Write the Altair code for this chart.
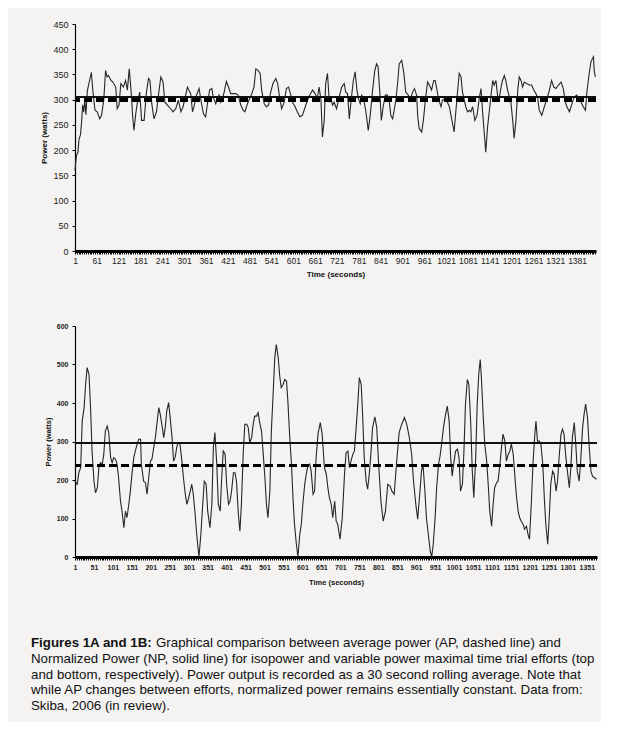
import altair as alt
import pandas as pd

# ---------------- data ----------------
top_t = [1,5,9,12,16,19,22,25,28,31,35,41,46,50,56,62,69,74,80,85,89,93,99,105,113,117,122,127,134,140,145,150,155,159,163,168,172,179,184,191,197,203,207,212,218,225,232,237,243,248,255,264,270,278,285,292,298,303,310,314,319,324,328,335,342,348,354,360,365,371,377,381,388,392,397,402,406,411,417,423,429,435,443,449,457,463,468,475,481,487,493,498,504,510,514,521,527,533,538,545,553,558,564,569,576,582,588,593,599,606,612,619,626,634,640,646,654,661,667,672,677,681,686,690,695,700,704,709,713,720,727,734,741,745,750,755,759,766,771,776,780,785,789,794,800,807,812,819,825,830,834,839,843,848,854,860,865,869,874,879,883,888,892,899,905,910,917,922,929,934,940,943,947,954,959,964,970,975,981,987,991,996,1000,1007,1011,1018,1022,1030,1037,1043,1048,1052,1057,1062,1066,1071,1075,1080,1085,1089,1094,1100,1106,1112,1117,1121,1126,1130,1135,1140,1144,1149,1153,1158,1163,1167,1172,1176,1181,1185,1190,1195,1199,1204,1208,1213,1218,1222,1227,1231,1236,1242,1250,1256,1262,1268,1273,1277,1284,1291,1297,1305,1311,1317,1323,1330,1337,1343,1349,1353,1360,1367,1373,1380,1385,1392,1398,1404,1408,1413,1419,1426,1428,1431]
top_w = [160,190,195,222,230,255,290,275,300,270,318,338,354,318,279,276,262,269,299,358,345,348,339,335,325,282,289,332,325,338,319,361,319,272,239,272,292,315,259,259,312,342,338,292,262,276,319,345,335,295,289,282,276,282,299,276,286,302,325,319,312,276,286,309,322,295,272,266,292,319,322,305,292,302,309,295,302,315,336,325,312,312,312,309,289,279,276,292,302,312,325,361,358,352,319,292,286,289,312,332,342,332,302,282,295,322,325,312,295,286,276,266,269,286,299,309,319,312,302,325,299,226,259,332,352,295,302,289,295,282,305,325,332,315,312,262,292,338,355,319,302,292,309,302,279,239,266,319,358,371,365,312,259,286,309,309,295,269,262,282,299,335,371,378,352,315,309,299,315,322,309,266,243,236,262,299,335,329,319,338,338,319,302,286,299,302,299,286,259,236,279,312,352,345,315,299,286,276,279,276,286,259,269,302,322,279,233,196,246,279,305,338,329,338,305,302,325,338,348,338,319,305,295,259,223,259,319,345,338,325,335,332,329,329,319,312,302,279,269,286,299,319,338,325,322,329,335,322,295,286,276,292,305,309,302,295,286,279,315,345,375,385,358,345]

bot_t = [1,7,11,16,20,25,29,33,38,42,46,51,55,60,64,68,73,77,81,86,90,95,99,103,108,112,116,121,125,130,134,138,143,147,152,156,160,165,169,174,176,182,187,191,195,200,204,208,213,217,222,226,230,235,239,243,248,252,257,261,265,270,274,278,283,287,292,296,300,305,309,313,318,322,328,333,338,342,347,351,357,362,366,370,375,379,384,388,392,397,401,406,410,414,419,423,427,432,436,440,445,449,454,458,462,467,471,475,480,484,489,493,497,502,506,510,515,519,524,528,532,537,541,545,550,554,559,563,567,572,576,580,585,589,594,598,602,607,611,615,620,624,629,633,637,642,648,653,659,664,668,672,677,681,686,690,694,700,706,712,716,721,725,729,734,738,742,747,751,756,760,764,769,773,778,782,786,792,797,802,808,814,820,826,832,837,843,849,856,863,870,876,883,889,894,900,905,911,915,919,924,928,933,938,942,946,951,955,960,964,968,973,977,983,988,992,996,1001,1005,1010,1014,1018,1023,1027,1031,1036,1040,1045,1049,1053,1058,1062,1066,1070,1073,1078,1082,1087,1091,1095,1100,1104,1108,1113,1117,1122,1126,1130,1135,1139,1144,1148,1152,1157,1161,1165,1170,1174,1178,1183,1187,1192,1196,1200,1205,1209,1214,1217,1221,1226,1230,1235,1239,1243,1248,1252,1256,1261,1265,1270,1274,1278,1283,1287,1291,1296,1300,1305,1309,1313,1318,1322,1326,1331,1335,1340,1344,1348,1353,1357,1362,1366,1371,1377]
bot_w = [197,189,219,232,353,388,448,492,474,388,275,197,167,180,232,245,241,267,327,340,323,258,245,258,254,241,206,145,119,76,119,102,137,171,223,258,275,293,306,306,241,197,193,163,202,249,254,280,310,345,388,370,345,310,336,379,401,362,310,249,258,288,297,293,249,206,163,137,150,171,189,163,111,59,0,59,137,197,189,119,76,137,284,323,241,137,119,206,275,267,189,137,145,171,219,219,197,111,67,137,275,345,345,336,297,310,345,366,366,375,345,327,275,206,137,102,171,327,431,518,552,518,470,440,448,461,457,397,319,241,154,85,33,0,59,85,137,189,215,236,241,223,163,171,258,319,349,319,232,215,180,154,137,102,145,93,85,46,102,215,271,275,232,249,267,275,327,397,466,448,362,258,197,176,223,275,336,364,336,241,145,93,119,189,184,171,163,241,323,345,362,345,310,267,197,137,98,171,223,241,171,102,59,16,0,33,102,180,241,262,293,336,362,392,353,258,210,249,275,280,258,171,189,275,397,461,448,345,223,154,258,397,474,513,466,362,293,249,189,119,80,137,180,193,197,241,284,319,301,249,267,275,293,267,215,163,119,102,93,85,72,80,59,46,145,241,319,353,301,301,293,241,154,85,33,102,189,223,215,171,197,258,319,332,319,258,223,180,232,310,349,293,223,197,249,336,371,397,362,293,223,210,206,202]

top_np, top_ap = 305, 299
bot_np, bot_ap = 297, 238

top_y_ticks = list(range(0, 451, 50))
bot_y_ticks = list(range(0, 601, 100))

caption_bold = "Figures 1A and 1B:"
caption_first_rest = "Graphical comparison between average power (AP, dashed line) and"
caption_lines = [
    "Normalized Power (NP, solid line) for isopower and variable power maximal time trial efforts (top",
    "and bottom, respectively). Power output is recorded as a 30 second rolling average. Note that",
    "while AP changes between efforts, normalized power remains essentially constant. Data from:",
    "Skiba, 2006 (in review).",
]

FONT = "Liberation Sans"
BG = "#f4f3f1"


def panel(t, w, np_val, ap_val, xmax, ymax, yticks, label_every, width, height,
          lab_size, lab_weight, ylab_size, title_size, x_title_pad, x_lab_pad):
    df = pd.DataFrame({"t": t, "w": w})
    tick_vals = list(range(1, xmax + 1, 5))
    x = alt.X(
        "t:Q",
        scale=alt.Scale(domain=[1, xmax], nice=False, zero=False),
        axis=alt.Axis(
            values=tick_vals,
            labelExpr=f"(datum.value - 1) % {label_every} == 0 ? format(datum.value, 'd') : ''",
            labelOverlap=False, labelFlush=False, labelBound=False,
            title="Time (seconds)", titleFont=FONT, titleFontSize=title_size,
            titleFontWeight="bold", titleColor="#111", titlePadding=x_title_pad,
            labelFont=FONT, labelFontSize=lab_size, labelFontWeight=lab_weight,
            labelColor="#222", labelPadding=x_lab_pad,
            domainColor="#000", domainWidth=3, tickColor="#000",
            tickSize=3, tickWidth=1, grid=False,
        ),
    )
    y_scale = alt.Scale(domain=[0, ymax], nice=False)
    y_axis = alt.Axis(
        values=yticks, title="Power (watts)", titleFont=FONT,
        titleFontSize=title_size, titleFontWeight="bold", titleColor="#111",
        titlePadding=4, labelFont=FONT, labelFontSize=ylab_size,
        labelFontWeight=lab_weight, labelColor="#222", labelPadding=4,
        labelOverlap=False, labelFlush=False,
        domainColor="#000", domainWidth=1.2, tickColor="#000",
        tickSize=3, grid=False,
    )
    y = alt.Y("w:Q", scale=y_scale, axis=y_axis)
    line = alt.Chart(df).mark_line(color="#262626", strokeWidth=1.1).encode(x=x, y=y)
    np_rule = alt.Chart(df).mark_rule(color="#111", strokeWidth=1.1).encode(
        y=alt.YDatum(np_val, scale=y_scale, axis=y_axis))
    ap_rule = alt.Chart(df).mark_rule(color="#000", strokeWidth=2.6,
                                      strokeDash=[8, 4]).encode(
        y=alt.YDatum(ap_val, scale=y_scale, axis=y_axis))
    return alt.layer(line, np_rule, ap_rule).properties(width=width, height=height)


top = panel(top_t, top_w, top_np, top_ap, 1433, 450, top_y_ticks, 60, 521, 227,
            8.5, "normal", 9, 8, 6, 2)
bottom = panel(bot_t, bot_w, bot_np, bot_ap, 1378, 600, bot_y_ticks, 50, 522, 231,
               7, "bold", 7, 7.5, 8, 3)

cap_y = alt.Y("line:O", axis=None,
              scale=alt.Scale(domain=[0, 1, 2, 3, 4], padding=0.9))
bold_df = pd.DataFrame({"line": [0], "text": [caption_bold]})
first_df = pd.DataFrame({"line": [0], "text": [caption_first_rest]})
rest_df = pd.DataFrame({"line": [1, 2, 3, 4], "text": caption_lines})
txt = dict(align="left", baseline="middle", font=FONT, fontSize=13.3, color="#111")
cap_bold = alt.Chart(bold_df).mark_text(fontWeight="bold", **txt).encode(
    x=alt.value(-44), y=cap_y, text="text:N")
cap_first = alt.Chart(first_df).mark_text(**txt).encode(
    x=alt.value(-44 + 125), y=cap_y, text="text:N")
cap_rest = alt.Chart(rest_df).mark_text(**txt).encode(
    x=alt.value(-44), y=cap_y, text="text:N")
caption = alt.layer(cap_bold, cap_first, cap_rest).properties(width=480, height=91)

chart = alt.vconcat(top, bottom, caption, spacing=43).properties(
    padding={"left": 23, "top": 12, "right": 2, "bottom": 2},
    background=BG,
).configure_view(stroke=None)

chart.save("out.html", embed_options={"renderer": "svg", "actions": False})
